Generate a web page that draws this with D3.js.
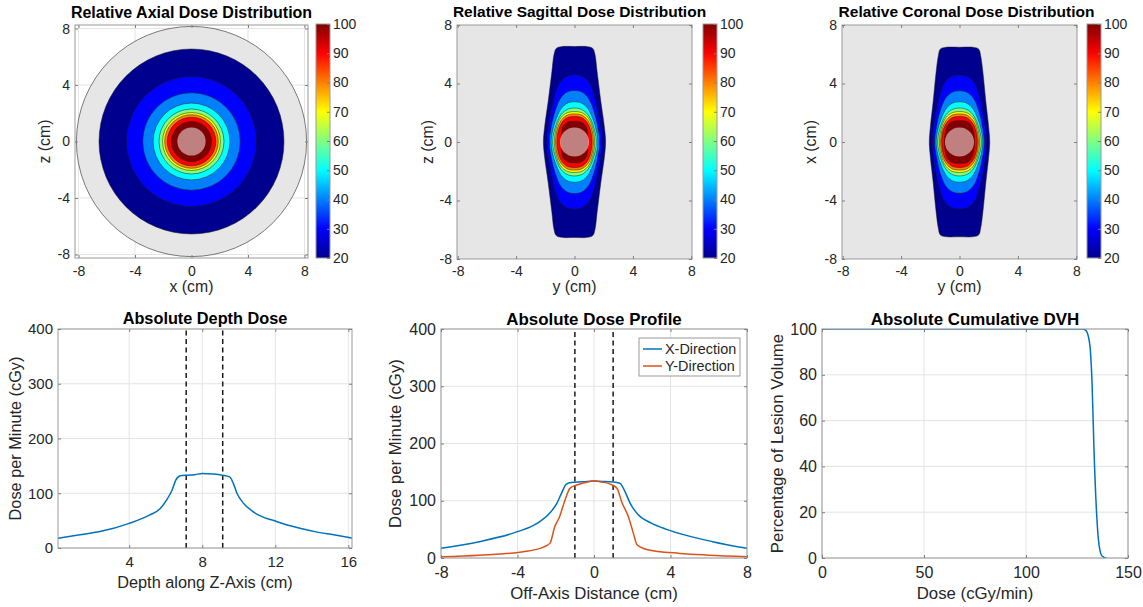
<!doctype html>
<html>
<head>
<meta charset="utf-8">
<title>Dose distribution</title>
<script src="https://d3js.org/d3.v7.min.js"></script>
<style>
  body { margin: 0; background: #fff; }
  svg { font-family: "Liberation Sans", Arial, Helvetica, sans-serif; }
  .tick-label { fill: #262626; }
  .axis-label { fill: #262626; }
  .title { font-weight: bold; fill: #000; }
</style>
</head>
<body>
<svg id="fig" width="1143" height="607"></svg>
<script>
// ---- data ----
const doseLevels = [20, 30, 40, 50, 60, 70, 80, 90, 100];
const colorbarTicks = [20, 30, 40, 50, 60, 70, 80, 90, 100];
const mapTicks = [-8, -4, 0, 4, 8];

// axial view: radius (cm) of each isodose level
const axialRadii = [6.55, 4.6, 3.45, 2.72, 2.3, 2.05, 1.9, 1.72, 1.42];
const phantomRadius = 8.15;
const lesionRadius = 1.0;

// sagittal / coronal: one quadrant of each isodose line, [half-width, z] in cm
const sagittalContours = [
  [[0, 6.53], [0.9, 6.52], [1.25, 6.4], [1.4, 6.0], [1.55, 4.8], [1.8, 2.8], [2.05, 1.0], [2.13, 0]],
  [[0, 4.59], [0.6, 4.45], [1.05, 4.0], [1.4, 3.0], [1.65, 1.8], [1.85, 0.6], [1.88, 0]],
  [[0, 3.52], [0.5, 3.42], [0.95, 3.0], [1.3, 2.2], [1.6, 1.0], [1.72, 0]],
  [[0, 2.75], [0.5, 2.65], [0.9, 2.3], [1.25, 1.6], [1.5, 0.8], [1.6, 0]],
  [[0, 2.32], [0.5, 2.22], [0.9, 1.9], [1.25, 1.2], [1.5, 0]],
  [[0, 2.08], [0.5, 2.0], [0.9, 1.7], [1.2, 1.1], [1.38, 0]],
  [[0, 1.92], [0.5, 1.84], [0.85, 1.56], [1.15, 1.0], [1.3, 0]],
  [[0, 1.74], [0.5, 1.66], [0.85, 1.35], [1.08, 0.85], [1.2, 0]],
  [[0, 1.42], [0.5, 1.34], [0.8, 1.05], [0.9, 0.5], [0.9, 0]]
];
const coronalContours = [
  [[0, 6.48], [1.0, 6.47], [1.32, 6.35], [1.45, 5.9], [1.6, 4.8], [1.8, 2.8], [2.0, 1.0], [2.07, 0]],
  [[0, 4.58], [0.6, 4.45], [1.05, 4.0], [1.4, 3.0], [1.65, 1.8], [1.82, 0.6], [1.85, 0]],
  [[0, 3.5], [0.5, 3.4], [0.95, 3.0], [1.3, 2.2], [1.58, 1.0], [1.7, 0]],
  [[0, 2.75], [0.5, 2.65], [0.9, 2.3], [1.25, 1.6], [1.5, 0.8], [1.6, 0]],
  [[0, 2.32], [0.5, 2.22], [0.9, 1.9], [1.25, 1.2], [1.5, 0]],
  [[0, 2.08], [0.5, 2.0], [0.9, 1.7], [1.2, 1.1], [1.38, 0]],
  [[0, 1.92], [0.5, 1.84], [0.85, 1.56], [1.15, 1.0], [1.3, 0]],
  [[0, 1.74], [0.5, 1.66], [0.85, 1.35], [1.1, 0.85], [1.22, 0]],
  [[0, 1.46], [0.55, 1.38], [0.85, 1.05], [1.0, 0.5], [1.02, 0]]
];

// depth dose along z
const depthPos = [0.1, 1.3, 2.4, 4, 5.1, 5.7, 6.05, 6.35, 6.55, 6.8, 7.15, 7.6, 8.0, 8.6, 9.1, 9.5, 9.7, 9.9, 10.25, 10.8, 12.1, 13.35, 14.3, 15.2, 16.2];
const depthDose = [18, 24, 30, 45, 60, 72, 88, 106, 124, 132, 133, 134, 136, 135, 133, 130, 118, 100, 82, 66, 48, 36, 29, 24, 18];
const depthLesionEdges = [7.12, 9.12];

// off-axis profiles
const profileXPos = [-8, -6, -4, -3, -2.3, -1.95, -1.7, -1.45, -1.2, -0.6, 0, 0.6, 1.2, 1.38, 1.62, 1.9, 2.3, 3, 3.8, 6.2, 8];
const profileXDose = [17, 28.5, 46, 60, 79, 95, 113, 129, 132, 133, 134.5, 133.5, 132, 130, 116, 95, 76, 61, 50, 28.5, 17];
const profileYPos = [-8, -6, -3.7, -2.65, -2.3, -2.05, -1.8, -1.52, -1.25, -0.9, -0.45, 0, 0.45, 0.85, 1.2, 1.45, 1.8, 2.06, 2.25, 2.75, 4.5, 6, 8];
const profileYDose = [2.3, 5, 11, 19, 26, 55, 72, 101, 122, 127.5, 132, 134.5, 132.5, 129, 122, 98, 72, 43, 23, 15, 8, 5, 2.3];
const profileLesionEdges = [-1, 1];

// cumulative DVH
const dvhDose = [0, 127.5, 129.2, 130.5, 131.6, 132.4, 133.3, 134.7, 135.5, 136.2, 137, 138, 139.5];
const dvhVolume = [100, 100, 99.5, 97, 90, 76, 48, 18, 8, 3.5, 1.2, 0.4, 0];

// ---- colour map (MATLAB jet, caxis 20..100) ----
const jetStops = [20, 30, 50, 70, 90, 100];
const jetColors = ["#00008f", "#0000ff", "#00ffff", "#ffff00", "#ff0000", "#800000"];
const jet = d3.scaleLinear().domain(jetStops).range(jetColors).interpolate(d3.interpolateRgb);

const svg = d3.select("#fig");
const defs = svg.append("defs");
let clipCount = 0;

const grad = defs.append("linearGradient").attr("id", "jetGrad")
  .attr("x1", 0).attr("y1", 1).attr("x2", 0).attr("y2", 0);
grad.selectAll("stop").data(jetStops).join("stop")
  .attr("offset", d => (d - 20) / 80)
  .attr("stop-color", d => jet(d));

function makeAxes(o) {
  const x = d3.scaleLinear().domain(o.xDomain).range([o.left, o.left + o.width]);
  const y = d3.scaleLinear().domain(o.yDomain).range([o.top + o.height, o.top]);
  const g = svg.append("g");
  g.append("rect")
    .attr("x", o.left).attr("y", o.top).attr("width", o.width).attr("height", o.height)
    .attr("fill", o.background || "#fff");
  if (o.grid) {
    g.append("g").selectAll("line").data(o.xTicks).join("line")
      .attr("x1", d => x(d)).attr("x2", d => x(d))
      .attr("y1", o.top).attr("y2", o.top + o.height)
      .attr("stroke", "#e4e4e4");
    g.append("g").selectAll("line").data(o.yTicks).join("line")
      .attr("y1", d => y(d)).attr("y2", d => y(d))
      .attr("x1", o.left).attr("x2", o.left + o.width)
      .attr("stroke", "#e4e4e4");
  }
  const id = "clip" + (clipCount++);
  defs.append("clipPath").attr("id", id).append("rect")
    .attr("x", o.left).attr("y", o.top).attr("width", o.width).attr("height", o.height);
  const plot = g.append("g").attr("clip-path", `url(#${id})`);
  return { x, y, g, plot, o };
}

function styleAxis(a, fs) {
  a.attr("font-size", null).attr("font-family", null);
  a.select(".domain").remove();
  a.selectAll("line").attr("stroke", "#808080");
  a.selectAll("text").attr("class", "tick-label").attr("fill", "#262626")
    .style("font-size", fs + "px");
}

function finishAxes(ax) {
  const { x, y, g, o } = ax;
  const fmt = d => String(d);
  g.append("rect")
    .attr("x", o.left).attr("y", o.top).attr("width", o.width).attr("height", o.height)
    .attr("fill", "none").attr("stroke", "#9a9a9a");
  styleAxis(g.append("g").attr("transform", `translate(0,${o.top + o.height})`)
    .call(d3.axisBottom(x).tickValues(o.xTicks).tickSize(-3).tickPadding(o.xPad).tickFormat(fmt)), o.tickFont);
  styleAxis(g.append("g").attr("transform", `translate(0,${o.top})`)
    .call(d3.axisTop(x).tickValues(o.xTicks).tickSize(-3).tickFormat("")), o.tickFont);
  styleAxis(g.append("g").attr("transform", `translate(${o.left},0)`)
    .call(d3.axisLeft(y).tickValues(o.yTicks).tickSize(-3).tickPadding(5).tickFormat(fmt)), o.tickFont);
  styleAxis(g.append("g").attr("transform", `translate(${o.left + o.width},0)`)
    .call(d3.axisRight(y).tickValues(o.yTicks).tickSize(-3).tickFormat("")), o.tickFont);

  g.append("text").attr("class", "title").style("font-size", o.titleFont + "px")
    .attr("x", o.left + o.width / 2 + (o.titleShift || 0)).attr("y", o.titleY)
    .attr("text-anchor", "middle").text(o.title);
  g.append("text").attr("class", "axis-label").style("font-size", o.labelFont + "px")
    .attr("x", o.left + o.width / 2).attr("y", o.xLabelY)
    .attr("text-anchor", "middle").text(o.xLabel);
  g.append("text").attr("class", "axis-label").style("font-size", o.labelFont + "px")
    .attr("transform", `translate(${o.yLabelX},${o.top + o.height / 2}) rotate(-90)`)
    .attr("text-anchor", "middle").text(o.yLabel);
}

function colorbar(left) {
  const cb = d3.scaleLinear().domain([20, 100]).range([258, 24]);
  const g = svg.append("g");
  g.append("rect").attr("x", left).attr("y", 24).attr("width", 14).attr("height", 234)
    .attr("fill", "url(#jetGrad)").attr("stroke", "#9a9a9a");
  styleAxis(g.append("g").attr("transform", `translate(${left + 14},0)`)
    .call(d3.axisRight(cb).tickValues(colorbarTicks).tickSize(-3).tickPadding(3).tickFormat(d => String(d))), 14);
}

function mirrorQuarter(pts) {
  const q1 = pts;
  const q4 = pts.slice(0, -1).reverse().map(([h, z]) => [h, -z]);
  const q3 = pts.slice(1).map(([h, z]) => [-h, -z]);
  const q2 = pts.slice(1, -1).reverse().map(([h, z]) => [-h, z]);
  return q1.concat(q4, q3, q2);
}

function lesion(ax) {
  ax.plot.append("circle")
    .attr("cx", ax.x(0)).attr("cy", ax.y(0))
    .attr("r", ax.x(lesionRadius) - ax.x(0))
    .attr("fill", "#fff").attr("fill-opacity", 0.5);
}

function contourPanel(ax, contours) {
  const line = d3.line()
    .x(d => ax.x(d[0])).y(d => ax.y(d[1]))
    .curve(d3.curveCatmullRomClosed.alpha(0.5));
  ax.plot.selectAll("path.band").data(contours).join("path")
    .attr("class", "band")
    .attr("d", d => line(mirrorQuarter(d)))
    .attr("fill", (d, i) => jet(doseLevels[i]))
    .attr("stroke", "#1a1a1a").attr("stroke-width", 0.5);
  lesion(ax);
}

// ---- top row: relative dose maps ----
const topFonts = { tickFont: 14, labelFont: 15.8, titleFont: 16 };

const axial = makeAxes(Object.assign({
  left: 75, top: 25, width: 233, height: 233,
  xDomain: [-8.25, 8.25], yDomain: [-8.25, 8.25], xTicks: mapTicks, yTicks: mapTicks,
  grid: true, xPad: 8, title: "Relative Axial Dose Distribution", titleY: 17.5,
  xLabel: "x (cm)", xLabelY: 292, yLabel: "z (cm)", yLabelX: 50
}, topFonts));
axial.plot.append("circle")
  .attr("cx", axial.x(0)).attr("cy", axial.y(0))
  .attr("r", axial.x(phantomRadius) - axial.x(0))
  .attr("fill", "#e6e6e6").attr("stroke", "#5a5a5a").attr("stroke-width", 0.8);
axial.plot.selectAll("circle.band").data(axialRadii).join("circle")
  .attr("class", "band")
  .attr("cx", axial.x(0)).attr("cy", axial.y(0))
  .attr("r", d => axial.x(d) - axial.x(0))
  .attr("fill", (d, i) => jet(doseLevels[i]))
  .attr("stroke", "#1a1a1a").attr("stroke-width", 0.5);
lesion(axial);
finishAxes(axial);
colorbar(316);

const sagittal = makeAxes(Object.assign({
  left: 457, top: 25, width: 235, height: 234,
  xDomain: [-8.05, 8.05], yDomain: [-8, 8], xTicks: mapTicks, yTicks: mapTicks,
  background: "#e6e6e6", xPad: 7, title: "Relative Sagittal Dose Distribution", titleY: 17,
  xLabel: "y (cm)", xLabelY: 292, yLabel: "z (cm)", yLabelX: 433
}, topFonts, { titleFont: 15.5, titleShift: 5 }));
contourPanel(sagittal, sagittalContours);
finishAxes(sagittal);
colorbar(703);

const coronal = makeAxes(Object.assign({
  left: 842, top: 25, width: 235, height: 234,
  xDomain: [-8.05, 8.05], yDomain: [-8, 8], xTicks: mapTicks, yTicks: mapTicks,
  background: "#e6e6e6", xPad: 7, title: "Relative Coronal Dose Distribution", titleY: 17,
  xLabel: "y (cm)", xLabelY: 292, yLabel: "x (cm)", yLabelX: 816
}, topFonts, { titleFont: 15.5, titleShift: 7 }));
contourPanel(coronal, coronalContours);
finishAxes(coronal);
colorbar(1087);

// ---- bottom row ----
function curve(ax, xs, ys, color) {
  const line = d3.line().x(d => ax.x(d[0])).y(d => ax.y(d[1])).curve(d3.curveMonotoneX);
  ax.plot.append("path")
    .attr("d", line(d3.zip(xs, ys)))
    .attr("fill", "none").attr("stroke", color).attr("stroke-width", 1.5);
}
function dashed(ax, edges) {
  ax.plot.selectAll("line.edge").data(edges).join("line")
    .attr("class", "edge")
    .attr("x1", d => ax.x(d)).attr("x2", d => ax.x(d))
    .attr("y1", ax.y(ax.o.yDomain[0])).attr("y2", ax.y(ax.o.yDomain[1]))
    .attr("stroke", "#1a1a1a").attr("stroke-width", 1.5).attr("stroke-dasharray", "5,3.5");
}

const depth = makeAxes({
  left: 58, top: 329, width: 294, height: 219,
  xDomain: [0.1, 16.2], yDomain: [0, 400], xTicks: [4, 8, 12, 16], yTicks: [0, 100, 200, 300, 400],
  grid: true, xPad: 8.5, title: "Absolute Depth Dose", titleY: 323.5,
  xLabel: "Depth along Z-Axis (cm)", xLabelY: 588, yLabel: "Dose per Minute (cGy)", yLabelX: 20.5,
  tickFont: 15, labelFont: 16.3, titleFont: 16.3
});
dashed(depth, depthLesionEdges);
curve(depth, depthPos, depthDose, "#0072bd");
finishAxes(depth);

const bottomFonts = { tickFont: 16, labelFont: 16.8, titleFont: 16.9 };

const profile = makeAxes(Object.assign({
  left: 441, top: 329, width: 306, height: 229,
  xDomain: [-8, 8], yDomain: [0, 400], xTicks: [-8, -4, 0, 4, 8], yTicks: [0, 100, 200, 300, 400],
  grid: true, xPad: 9, title: "Absolute Dose Profile", titleY: 324.5,
  xLabel: "Off-Axis Distance (cm)", xLabelY: 599, yLabel: "Dose per Minute (cGy)", yLabelX: 401
}, bottomFonts));
dashed(profile, profileLesionEdges);
curve(profile, profileXPos, profileXDose, "#0072bd");
curve(profile, profileYPos, profileYDose, "#d95319");
finishAxes(profile);

const legendItems = [["X-Direction", "#0072bd"], ["Y-Direction", "#d95319"]];
const legend = svg.append("g");
legend.append("rect").attr("x", 639).attr("y", 338).attr("width", 101).attr("height", 38)
  .attr("fill", "#fff").attr("stroke", "#9a9a9a");
const li = legend.selectAll("g.item").data(legendItems).join("g").attr("class", "item")
  .attr("transform", (d, i) => `translate(643,${349 + i * 17})`);
li.append("line").attr("x1", 0).attr("x2", 19).attr("stroke", d => d[1]).attr("stroke-width", 1.5);
li.append("text").attr("class", "tick-label").style("font-size", "14.4px")
  .attr("x", 22).attr("y", 5).text(d => d[0]);

const dvh = makeAxes(Object.assign({
  left: 822, top: 329, width: 306, height: 229,
  xDomain: [0, 150], yDomain: [0, 100], xTicks: [0, 50, 100, 150], yTicks: [0, 20, 40, 60, 80, 100],
  grid: true, xPad: 9, title: "Absolute Cumulative DVH", titleY: 324.5,
  xLabel: "Dose (cGy/min)", xLabelY: 599, yLabel: "Percentage of Lesion Volume", yLabelX: 782.5
}, bottomFonts));
curve(dvh, dvhDose, dvhVolume, "#0072bd");
finishAxes(dvh);
</script>
</body>
</html>
